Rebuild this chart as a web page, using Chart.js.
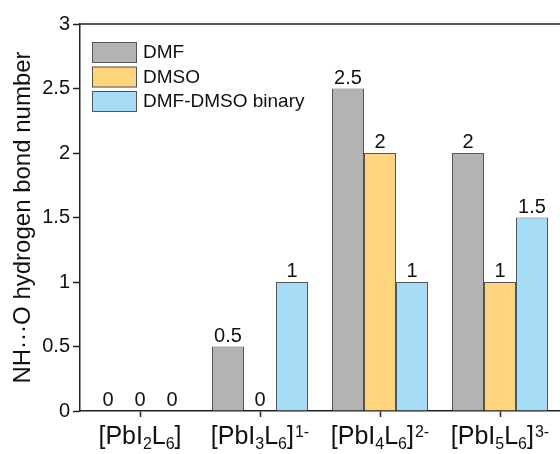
<!DOCTYPE html>
<html lang="en">
<head>
    <script src="https://cdn.jsdelivr.net/npm/chart.js@4.4.1/dist/chart.umd.min.js"></script>
    <style>
        body { margin: 0; background: #fff; }
        #wrap { width: 560px; height: 454px; position: relative; }
    </style>
</head>

<body>
<div id="wrap"><canvas id="myChart"></canvas></div>
<script>
    // categories with markup: _x = subscript, ^{..} = superscript
    const categories = ['[PbI_2L_6]', '[PbI_3L_6]^{1-}', '[PbI_4L_6]^{2-}', '[PbI_5L_6]^{3-}'];
    const seriesNames = ['DMF', 'DMSO', 'DMF-DMSO binary'];
    const dmf = [0, 0.5, 2.5, 2];
    const dmso = [0, 0, 2, 1];
    const binary = [0, 1, 1, 1.5];
    const yTicks = [0, 0.5, 1, 1.5, 2, 2.5, 3];

    const colors = ['#b3b3b3', '#ffd47f', '#a6dcf6'];
    const FONT = '"Liberation Sans", Arial, sans-serif';

    // bar value labels
    const valueLabels = {
        id: 'valueLabels',
        afterDatasetsDraw(chart) {
            const ctx = chart.ctx;
            ctx.save();
            ctx.font = '20px ' + FONT;
            ctx.fillStyle = '#111';
            ctx.textAlign = 'center';
            ctx.textBaseline = 'alphabetic';
            chart.data.datasets.forEach((ds, i) => {
                chart.getDatasetMeta(i).data.forEach((bar, j) => {
                    ctx.fillText(String(ds.data[j]), bar.x, bar.y - 5);
                });
            });
            ctx.restore();
        }
    };

    // frame top line, legend inside, rich x labels
    const extras = {
        id: 'extras',
        afterDraw(chart) {
            const ctx = chart.ctx;
            const area = chart.chartArea;
            ctx.save();
            ctx.strokeStyle = '#222';
            ctx.lineWidth = 1.5;
            ctx.beginPath();
            ctx.moveTo(area.left, area.top);
            ctx.lineTo(area.right, area.top);
            ctx.stroke();

            // legend
            ctx.font = '19px ' + FONT;
            ctx.textBaseline = 'middle';
            ctx.textAlign = 'left';
            chart.data.datasets.forEach((ds, i) => {
                const y = 42 + i * 24.5;
                ctx.fillStyle = ds.backgroundColor;
                ctx.fillRect(92, y, 45, 21);
                ctx.lineWidth = 1;
                ctx.strokeStyle = '#555';
                ctx.strokeRect(92.5, y + 0.5, 44, 20);
                ctx.fillStyle = '#111';
                ctx.fillText(ds.label, 143, y + 11);
            });

            // x tick labels with sub/superscripts
            const xs = chart.scales.x;
            const base = 444;
            categories.forEach((lab, i) => {
                const parts = lab.match(/_\d|\^\{[^}]*\}|[^_^]+/g).map(p => {
                    if (p[0] === '_') return { t: p.slice(1), f: '16px ', dy: 5, gap: 0 };
                    if (p[0] === '^') return { t: p.slice(2, -1), f: '16px ', dy: -7, gap: 1 };
                    return { t: p, f: '25px ', dy: 0, gap: 0 };
                });
                let total = 0;
                parts.forEach(p => {
                    ctx.font = p.f + FONT;
                    p.w = ctx.measureText(p.t).width + p.gap;
                    total += p.w;
                });
                let x = xs.getPixelForTick(i) - total / 2;
                ctx.fillStyle = '#111';
                ctx.textBaseline = 'alphabetic';
                parts.forEach(p => {
                    ctx.font = p.f + FONT;
                    ctx.fillText(p.t, x + p.gap, base + p.dy);
                    x += p.w;
                });
            });
            ctx.restore();
        }
    };

    const config = {
        type: 'bar',
        data: {
            labels: categories,
            datasets: [
                { label: seriesNames[0], data: dmf, backgroundColor: colors[0] },
                { label: seriesNames[1], data: dmso, backgroundColor: colors[1] },
                { label: seriesNames[2], data: binary, backgroundColor: colors[2] }
            ]
        },
        options: {
            responsive: true,
            maintainAspectRatio: false,
            animation: false,
            devicePixelRatio: 1,
            layout: { padding: { top: 24, right: 0, bottom: 0, left: 0 } },
            datasets: {
                bar: {
                    borderColor: '#555',
                    borderWidth: 1,
                    barPercentage: 1,
                    categoryPercentage: 0.8
                }
            },
            plugins: {
                legend: { display: false },
                tooltip: { enabled: false }
            },
            scales: {
                x: {
                    afterFit: s => { s.height = 43; },
                    border: { display: true, color: '#222', width: 1.5 },
                    grid: {
                        offset: false,
                        drawOnChartArea: false,
                        drawTicks: true,
                        tickLength: 6,
                        tickColor: '#222',
                        tickWidth: 1.5
                    },
                    ticks: { callback: () => '', maxRotation: 0, autoSkip: false }
                },
                y: {
                    min: 0,
                    max: 3,
                    afterFit: s => { s.width = 80; },
                    afterBuildTicks: s => { s.ticks = yTicks.map(v => ({ value: v })); },
                    border: { display: true, color: '#222', width: 1.5 },
                    grid: {
                        drawOnChartArea: false,
                        drawTicks: true,
                        tickLength: 7,
                        tickColor: '#222',
                        tickWidth: 1.5
                    },
                    ticks: {
                        padding: 3,
                        color: '#111',
                        font: { family: FONT, size: 20 },
                        callback: v => String(v)
                    },
                    title: {
                        display: true,
                        text: 'NH\u00b7\u00b7\u00b7O hydrogen bond number',
                        color: '#111',
                        font: { family: FONT, size: 24 },
                        padding: { top: 9, bottom: 0 }
                    }
                }
            }
        },
        plugins: [valueLabels, extras]
    };

    const myChart = new Chart(
        document.getElementById('myChart'),
        config
    );
</script>
</body>
</html>
